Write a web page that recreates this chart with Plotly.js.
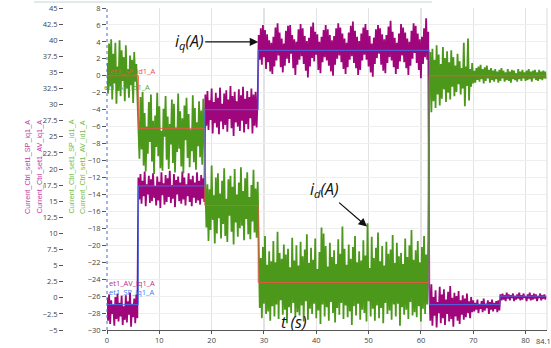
<!DOCTYPE html>
<html>
<head>
<meta charset="utf-8">
<script src="https://cdn.plot.ly/plotly-3.0.1.min.js"></script>
<style>html,body{margin:0;padding:0;background:#fff;}#chart{width:551px;height:348px;}</style>
</head>
<body>
<div id="chart"></div>
<script>
// ---- data ----
const sampleTime = 0.2; // s between logged samples

// Current_Ctrl_set1_AV_iq1_A (magenta)
const iqAV = [
-26.2,-28.9,-25.8,-29.3,-26.5,-28.1,-27.0,-29.5,-26.1,-28.7,
-25.7,-29.0,-26.8,-28.4,-26.0,-29.4,-27.2,-28.8,-25.9,-29.1,
-26.6,-28.2,-25.6,-29.6,-26.9,-28.5,-26.3,-29.2,-25.8,-28.6,
-12.0,-14.6,-11.6,-15.1,-12.4,-14.2,-11.3,-15.4,-12.8,-14.0,
-11.8,-15.0,-12.2,-14.8,-11.5,-14.4,-13.0,-15.3,-11.9,-14.7,
-12.5,-15.6,-11.4,-14.1,-12.7,-15.2,-11.7,-14.9,-12.1,-14.3,
-11.2,-15.0,-12.9,-14.5,-11.6,-15.5,-12.3,-14.0,-11.9,-14.8,
-12.6,-15.1,-11.3,-14.6,-12.0,-15.3,-12.8,-14.2,-11.5,-14.9,
-12.2,-15.4,-11.8,-14.4,-12.6,-15.0,-11.4,-14.7,-12.4,-15.2,
-11.7,-14.5,-12.1,-14.9,
-2.2,-5.9,-1.8,-6.4,-2.9,-5.2,-1.5,-6.8,-3.1,-5.6,
-2.0,-6.1,-2.6,-6.9,-1.4,-5.4,-3.3,-6.3,-2.1,-5.8,
-1.7,-6.6,-2.8,-5.1,-1.2,-6.2,-2.4,-7.1,-1.9,-5.5,
-3.0,-6.0,-1.6,-6.5,-2.3,-5.3,-1.3,-6.7,-2.7,-5.7,
-1.8,-6.3,-2.5,-5.0,-1.5,-6.8,-2.2,-5.9,-1.9,-6.1,
-2.6,
4.8,1.9,5.6,1.3,6.0,2.2,5.4,0.8,4.9,1.6,4.2,0.5,3.9,
0.2,4.6,1.1,5.7,1.8,6.2,2.4,5.1,1.0,4.4,0.4,3.8,
1.2,5.3,2.0,5.9,1.5,6.0,2.6,4.8,0.9,4.3,0.1,4.0,1.3,
5.5,1.9,6.1,2.3,5.6,1.4,4.7,0.6,4.1,-0.2,4.5,1.1,
5.8,2.1,6.3,1.7,5.2,2.5,4.9,0.7,4.0,0.3,4.6,1.6,5.4,
2.2,6.0,1.8,5.5,1.2,4.8,0.5,4.2,0.0,4.7,1.3,5.6,
2.0,6.2,2.4,5.7,1.6,5.0,0.8,4.4,0.2,3.9,1.0,5.1,1.9,
5.9,2.3,6.4,1.5,5.3,0.9,4.6,0.1,4.1,0.7,5.0,1.8,
5.7,2.5,6.1,1.9,5.4,1.1,4.7,0.4,3.8,-0.1,4.5,1.4,5.5,
2.1,6.0,2.6,5.6,1.3,4.9,0.6,4.3,0.3,4.8,1.5,5.8,
2.2,6.5,1.8,5.2,1.0,4.5,0.2,3.9,0.8,5.0,1.7,6.1,2.4,
5.7,1.6,5.1,0.9,4.4,0.1,4.0,1.2,5.3,2.0,6.2,2.7,
5.9,1.5,5.0,0.7,4.3,-0.3,4.6,1.4,5.6,2.2,6.8,1.9,5.2,
-25.0,-28.9,-24.6,-29.5,-26.1,-28.3,-25.3,-29.7,-26.7,-28.0,
-24.9,-29.2,-25.8,-28.6,-25.2,-29.4,-26.4,-28.1,-25.5,-29.0,
-24.8,-28.7,-26.2,-29.6,-25.6,-28.4,-26.0,-28.9,-25.4,-29.3,
-26.5,-28.2,-25.9,-28.8,-26.3,-28.5,-25.7,-28.0,-26.6,-28.6,
-26.1,-27.9,
-26.5,-27.8,-26.8,-27.6,-26.4,-28.0,-26.9,-27.5,-26.6,-27.9,
-26.3,-27.7,-26.9,-27.4,-26.5,-28.1,-26.7,-27.6,-26.4,-27.8,
-26.8,-27.5,-26.6,-27.9,-26.5,-27.7,
-25.8,-26.5,-25.7,-26.4,-25.9,-26.6,-25.6,-26.3,-25.8,-26.5,
-25.9,-26.2,-25.7,-26.6,-26.0,-26.4,-25.8,-26.3,-25.6,-26.5,
-25.9,-26.4,-25.7,-26.2,-26.0,-26.6,-25.8,-26.3,-25.6,-26.5,
-25.9,-26.4,-25.7,-26.3,-25.8,-26.6,-26.0,-26.2,-25.7,-26.5,
-25.9,-26.3,-25.8,-26.4,-26.0
];

// Current_Ctrl_set1_AV_id1_A (green)
const idAV = [
1.5,-2.1,3.8,-1.2,4.3,-2.8,2.6,-0.9,3.9,-3.3,
1.1,-1.8,4.2,-2.4,3.0,-0.6,2.2,-3.0,3.6,-1.5,
0.8,-2.6,2.4,-1.1,1.9,-3.2,2.8,-0.7,1.4,-2.3,
-4.0,-9.8,-2.5,-8.7,-1.9,-10.6,-4.4,-11.3,-6.0,-9.2,
-3.1,-7.8,-2.2,-10.1,-5.3,-11.6,-4.7,-8.4,-2.0,-9.5,
-3.6,-10.9,-6.5,-11.2,-3.9,-7.2,-2.4,-9.9,-4.8,-11.0,
-5.7,-8.1,-2.8,-10.3,-3.3,-11.4,-6.1,-9.0,-2.1,-8.6,
-4.2,-10.7,-5.0,-11.5,-3.5,-7.6,-2.6,-9.7,-4.5,-10.8,
-6.3,-8.9,-2.3,-10.2,-3.8,-11.1,-5.5,-8.3,-3.0,-9.6,
-4.1,-10.5,-2.7,-9.1,
-11.2,-17.9,-12.8,-19.5,-13.4,-18.2,-10.6,-17.0,-14.1,-19.8,
-12.0,-18.6,-11.5,-16.8,-13.9,-19.2,-12.4,-17.5,-10.9,-18.9,
-14.5,-19.6,-12.2,-16.5,-11.8,-18.4,-13.1,-19.9,-11.0,-17.3,
-14.0,-19.0,-12.6,-18.0,-10.8,-17.7,-13.6,-19.4,-12.1,-16.9,
-11.4,-18.7,-14.3,-19.3,-12.9,-17.2,-11.1,-18.5,-13.3,-19.1,
-12.5,
-19.8,-27.4,-21.5,-28.6,-20.2,-26.9,-18.9,-28.1,-22.3,-27.8,-20.7,-28.9,-21.9,
-27.2,-19.5,-28.4,-22.0,-27.0,-18.4,-28.7,-20.9,-26.5,-21.6,-28.2,-19.9,
-27.6,-21.1,-29.2,-20.4,-27.3,-22.6,-28.0,-19.1,-26.8,-21.8,-28.5,-20.0,-27.9,
-22.4,-28.3,-19.6,-27.1,-21.3,-29.0,-20.5,-26.6,-18.7,-28.8,-22.1,-27.5,
-20.3,-28.1,-21.7,-26.9,-19.2,-28.6,-22.8,-27.7,-20.8,-29.3,-17.9,-27.0,-18.6,
-28.4,-20.1,-27.3,-22.5,-28.9,-19.7,-26.7,-21.4,-28.0,-20.6,-29.1,-22.2,
-27.4,-19.3,-28.2,-21.0,-26.8,-17.8,-28.7,-20.4,-27.1,-22.3,-28.5,-19.9,-27.8,
-21.6,-29.4,-20.2,-27.2,-18.9,-28.3,-22.0,-26.9,-20.7,-28.8,-21.8,-27.6,
-19.4,-28.0,-21.2,-29.0,-17.4,-26.6,-22.7,-28.4,-19.0,-27.5,-21.5,-28.9,-20.3,
-27.1,-18.5,-28.6,-21.9,-27.4,-20.1,-29.2,-22.4,-26.8,-19.6,-28.1,-21.0,
-27.7,-20.5,-28.8,-18.8,-27.0,-22.1,-28.4,-19.7,-26.9,-21.3,-29.5,-20.9,-27.3,
-22.2,-28.2,-19.2,-27.6,-21.4,-28.7,-20.0,-26.7,-18.2,-28.3,-21.7,-27.9,
-20.6,-28.5,-19.5,-27.2,-22.0,-29.0,-20.2,-27.5,-18.9,-28.1,-21.1,-27.0,-19.4,
-1.5,2.8,-4.3,3.2,-3.0,1.9,-3.8,3.6,-2.2,2.5,
-3.5,1.4,-2.7,3.4,-1.6,2.1,-3.1,2.9,-2.0,1.6,
-2.8,3.0,-1.3,2.2,-2.4,1.2,-1.9,2.6,-1.0,1.7,
-2.2,0.9,-1.5,3.9,-3.6,1.1,-1.2,4.4,-2.9,0.8,
-1.3,1.5,-0.9,
0.6,-0.8,0.9,-0.5,1.1,-0.7,1.3,-0.4,0.8,-0.9,
1.0,-0.6,1.2,-0.3,0.7,-0.8,0.9,-0.5,0.6,-0.7,
0.8,-0.4,0.5,-0.8,0.7,-0.6,0.9,-0.3,0.6,-0.7,
0.4,-0.5,0.8,-0.6,0.5,-0.8,0.7,-0.4,0.6,-0.5,
0.3,-0.7,0.8,-0.4,0.5,-0.6,0.7,-0.3,0.4,-0.6,
0.6,-0.5,0.8,-0.4,0.5,-0.7,0.6,-0.3,0.7,-0.5,
0.4,-0.6,0.7,-0.4,0.5,-0.5,0.6,-0.3,0.5,-0.4
];

// set-point step changes
const spTimes = [0, 6.0, 18.7, 28.9, 61.6, 75.1, 84.1];
const iqSP    = [-27, -13, -4, 3, -27, -26, -26];
const idSP    = [0, -6.2, -15.3, -24.4, 0, 0, 0];

const xTicks = [0, 10, 20, 30, 40, 50, 60, 70, 80];
const xEnd = 84.1;

// ---- build ----
const tAV = iqAV.map((_, i) => +(i * sampleTime).toFixed(1));

const MAG = '#a0067b', GRN = '#4c981b', BLU = 'rgba(62,120,240,0.85)', RED = 'rgba(240,84,74,0.9)';
const FONT = 'Open Sans, Noto Sans, sans-serif';

const traces = [
  {x: tAV, y: iqAV, type: 'scatter', mode: 'lines', line: {color: MAG, width: 1.8}, hoverinfo: 'skip', name: 'Current_Ctrl_set1_AV_iq1_A'},
  {x: tAV, y: idAV, type: 'scatter', mode: 'lines', line: {color: GRN, width: 1.8}, hoverinfo: 'skip', name: 'Current_Ctrl_set1_AV_id1_A'},
  {x: spTimes, y: idSP, type: 'scatter', mode: 'lines', line: {color: RED, width: 1, shape: 'hv'}, hoverinfo: 'skip', name: 'Current_Ctrl_set1_SP_id1_A'},
  {x: spTimes, y: iqSP, type: 'scatter', mode: 'lines', line: {color: BLU, width: 1, shape: 'hv'}, hoverinfo: 'skip', name: 'Current_Ctrl_set1_SP_iq1_A'},
  {x: [], y: [], yaxis: 'y2', type: 'scatter', mode: 'lines', hoverinfo: 'skip', showlegend: false}
];

const L = 60, R = 4, T = 8, B = 18, W = 551, H = 348;
const pw = W - L - R, ph = H - T - B;
const px2x = p => (p - L) / pw;
const py2y = p => (H - B - p) / ph;
const x0 = px2x(107);

const tickFont = {family: FONT, size: 7.5, color: '#444'};
const smallLbl = (text, xpx, ypx, color, anchor) => ({
  text, xref: 'paper', yref: 'paper', x: px2x(xpx), y: py2y(ypx), xanchor: anchor, yanchor: 'middle',
  showarrow: false, font: {family: FONT, size: 7.5, color}
});
const axTitle = (text, xpx, color) => ({
  text, xref: 'paper', yref: 'paper', x: px2x(xpx), y: py2y(167), xanchor: 'center', yanchor: 'middle',
  textangle: -90, showarrow: false, font: {family: 'Liberation Sans, Arial, sans-serif', size: 7.3, color}
});

const layout = {
  width: W, height: H,
  margin: {l: L, r: R, t: T, b: B, pad: 0},
  paper_bgcolor: '#fff', plot_bgcolor: '#fff',
  showlegend: false,
  xaxis: {
    domain: [x0, 1], range: [0, xEnd], autorange: false,
    tickvals: xTicks, ticks: 'outside', ticklen: 3, tickcolor: '#555',
    showgrid: true, gridcolor: '#e3e3e3', gridwidth: 1.3,
    showline: true, linecolor: '#555', linewidth: 1, zeroline: false,
    tickfont: tickFont, automargin: false
  },
  yaxis: {
    range: [-30, 8], autorange: false, dtick: 2, tick0: 0,
    ticks: 'outside', ticklen: 4, tickcolor: '#555',
    showgrid: true, gridcolor: '#eeeeee', gridwidth: 1,
    showline: false, zeroline: false, tickfont: tickFont, automargin: false
  },
  yaxis2: {
    overlaying: 'y', anchor: 'free', position: px2x(63), side: 'left',
    range: [-5, 45], autorange: false, dtick: 2.5, tick0: 0,
    ticks: 'outside', ticklen: 4, tickcolor: '#555',
    showgrid: false, showline: false, zeroline: false, tickfont: tickFont, automargin: false
  },
  shapes: [
    {type: 'line', xref: 'paper', yref: 'paper', x0: x0, x1: x0, y0: 0, y1: 1, line: {color: '#3f6fd8', width: 1, dash: 'dot'}},
    {type: 'line', xref: 'paper', yref: 'paper', x0: 1, x1: 1, y0: 0, y1: 1, line: {color: '#e3e3e3', width: 1.3}},
    {type: 'line', xref: 'paper', yref: 'paper', x0: px2x(34), x1: px2x(432), y0: py2y(2), y1: py2y(2), line: {color: '#bcd9d6', width: 1}}
  ],
  annotations: [
    axTitle('Current_Ctrl_set1_SP_iq1_A', 27, '#c23c9f'),
    axTitle('Current_Ctrl_set1_AV_iq1_A', 38.5, '#c23c9f'),
    axTitle('Current_Ctrl_set1_SP_id1_A', 70.5, '#72bb45'),
    axTitle('Current_Ctrl_set1_AV_id1_A', 82, '#72bb45'),
    smallLbl('et1_SP_id1_A', 108, 71.5, '#ee4a44', 'left'),
    smallLbl('et1_AV_id1_A', 152, 87, '#58a82a', 'right'),
    smallLbl('et1_AV_iq1_A', 107, 283, '#b8308f', 'left'),
    smallLbl('et1_SP_iq1_A', 107, 292, '#3f7ff2', 'left'),
    {text: '84.1', xref: 'paper', yref: 'paper', x: px2x(543), y: py2y(341), xanchor: 'center', yanchor: 'middle', showarrow: false, font: tickFont},
    {text: '<i>i<sub>q</sub>(A)</i>', xref: 'x', yref: 'y', x: 28.9, y: 4.0, ax: -69, ay: 0,
     showarrow: true, arrowhead: 2, arrowsize: 1.3, arrowwidth: 1.3, arrowcolor: '#111',
     font: {family: FONT, size: 16, color: '#111'}},
    {text: '<i>i<sub>d</sub>(A)</i>', xref: 'x', yref: 'y', x: 49.7, y: -17.8, ax: -43, ay: -37,
     showarrow: true, arrowhead: 2, arrowsize: 1.3, arrowwidth: 1.3, arrowcolor: '#111',
     font: {family: FONT, size: 16, color: '#111'}},
    {text: '<i>t (s)</i>', xref: 'x', yref: 'y', x: 35.6, y: -29.0, showarrow: false,
     font: {family: FONT, size: 16, color: '#111'}}
  ]
};

Plotly.newPlot('chart', traces, layout, {staticPlot: true, displayModeBar: false});
</script>
</body>
</html>
